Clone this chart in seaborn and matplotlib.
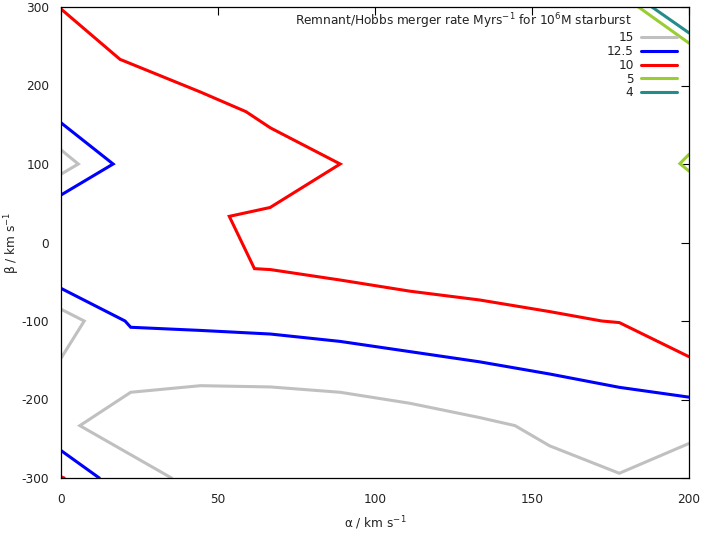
import matplotlib
matplotlib.use("Agg")
import matplotlib.pyplot as plt
from matplotlib.lines import Line2D
import seaborn as sns
import pandas as pd

# ---- data: contour polylines (alpha, beta) per merger-rate level ----
levels = ["15", "12.5", "10", "5", "4"]
colors = ["#c0c0c0", "#0000ff", "#ff0000", "#9acd32", "#258c8c"]

# level 15 (grey)
g1_x = [0, 5.5, 0]
g1_y = [118, 100, 87]
g2_x = [0, 7.4, 0]
g2_y = [-85, -100, -147.5]
g3_x = [35.2, 6, 22.2, 44.4, 66.7, 88.9, 111.1, 133.3, 144.6, 155.6, 177.8, 200]
g3_y = [-300, -233.3, -190.8, -182.4, -184, -190.8, -204.8, -223, -233.3, -259, -294, -256]

# level 12.5 (blue)
b1_x = [0, 16.6, 0]
b1_y = [152.5, 100, 60.5]
b2_x = [0, 20.4, 22.2, 44.4, 66.7, 88.9, 111.1, 133.3, 155.6, 177.8, 200]
b2_y = [-58.4, -100, -108, -112, -116.6, -126, -139, -152, -167.5, -184.5, -197]
b3_x = [0, 12.2]
b3_y = [-265, -300]

# level 10 (red)
r1_x = [0, 18.8, 44.4, 58.9, 66.7, 88.9, 66.6, 53.6, 61.6, 66.7, 88.9, 111.1,
        133.3, 155.6, 172.2, 177.8, 200]
r1_y = [297.5, 233.3, 191.7, 166.7, 146, 100, 44.6, 33.3, -33.3, -34.5, -47.8,
        -62, -73.2, -88, -100, -102, -145.5]
r2_x = [0, 1.0]
r2_y = [-298.5, -300]

# level 5 (yellow-green)
y1_x = [183.9, 200]
y1_y = [300, 254]
y2_x = [200, 197.1, 200]
y2_y = [112.3, 100.5, 91]

# level 4 (teal)
t1_x = [188.2, 200]
t1_y = [300, 267]

segments = [
    ("15", "g1", g1_x, g1_y), ("15", "g2", g2_x, g2_y), ("15", "g3", g3_x, g3_y),
    ("12.5", "b1", b1_x, b1_y), ("12.5", "b2", b2_x, b2_y), ("12.5", "b3", b3_x, b3_y),
    ("10", "r1", r1_x, r1_y), ("10", "r2", r2_x, r2_y),
    ("5", "y1", y1_x, y1_y), ("5", "y2", y2_x, y2_y),
    ("4", "t1", t1_x, t1_y),
]

rows = []
for lev, seg, xs, ys in segments:
    for i, (xv, yv) in enumerate(zip(xs, ys)):
        rows.append({"alpha": xv, "beta": yv, "level": lev, "seg": seg, "order": i})
df = pd.DataFrame(rows)

x_ticks = [0, 50, 100, 150, 200]
y_ticks = [-300, -200, -100, 0, 100, 200, 300]

# ---- plot ----
sns.set_theme(style="white")
plt.rcParams["font.family"] = ["DejaVu Sans"]
plt.rcParams["mathtext.fontset"] = "dejavusans"
plt.rcParams["axes.unicode_minus"] = False

FS = 8.7
fig = plt.figure(figsize=(7.03, 5.38), dpi=100)
ax = fig.add_axes([61 / 703, 1 - 478 / 538, 628 / 703, 471 / 538])

palette = dict(zip(levels, colors))
sns.lineplot(data=df, x="alpha", y="beta", hue="level", units="seg",
             estimator=None, sort=False, palette=palette, hue_order=levels,
             linewidth=2.2, legend=False, ax=ax)
for ln in ax.get_lines():
    ln.set_solid_joinstyle("miter")

ax.set_xlim(0, 200)
ax.set_ylim(-300, 300)
ax.set_xticks(x_ticks)
ax.set_yticks(y_ticks)
ax.tick_params(axis="both", direction="in", length=6, width=0.8, color="black",
               top=True, right=True, labelsize=FS, labelcolor="#222222")
ax.tick_params(axis="x", pad=11)
ax.tick_params(axis="y", pad=8.5)
for sp in ax.spines.values():
    sp.set_color("black")
    sp.set_linewidth(0.9)

ax.set_xlabel("α / km s$^{-1}$", fontsize=FS, color="#222222")
ax.set_ylabel("β / km s$^{-1}$", fontsize=FS, color="#222222")
ax.xaxis.set_label_coords(0.5, -0.078)
ax.yaxis.set_label_coords(-0.062, 0.5)

handles = [Line2D([], [], color=c, linewidth=2.2) for c in colors]
leg = ax.legend(handles, levels, loc="upper right", bbox_to_anchor=(0.981, 0.948),
                markerfirst=False, frameon=False, fontsize=FS, handlelength=3.0,
                handletextpad=0.6, labelspacing=0.06, borderaxespad=0, borderpad=0)
for t in leg.get_texts():
    t.set_ha("right")
    t.set_color("#222222")

ax.text(0.908, 0.969, "Remnant/Hobbs merger rate Myrs$^{-1}$ for 10$^6$M starburst",
        transform=ax.transAxes, ha="right", va="center", fontsize=FS, color="#222222")

fig.savefig("out.png", dpi=100)
